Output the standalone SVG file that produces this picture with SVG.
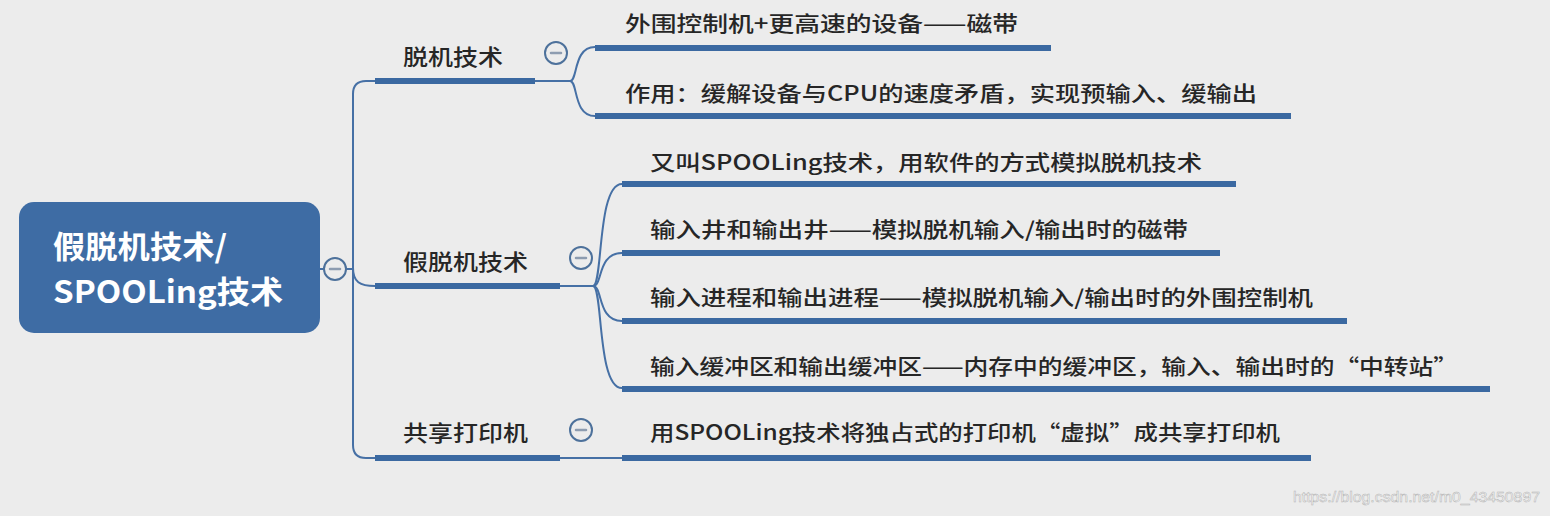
<svg xmlns="http://www.w3.org/2000/svg" width="1550" height="516" viewBox="0 0 1550 516">
<style>
.bg{fill:#ececec}
.root{fill:#3e6ca4}
.rt{font-family:"Noto Sans CJK SC","Liberation Sans",sans-serif;font-size:31px;font-weight:bold;fill:#ffffff}
.t1{font-family:"Noto Sans CJK SC","Liberation Sans",sans-serif;font-size:22px;font-weight:500;fill:#262626}
.t2{font-family:"Noto Sans CJK SC","Liberation Sans",sans-serif;font-size:21px;font-weight:500;fill:#262626}
.bar{stroke:#3b69a1;stroke-width:6;fill:none}
.ln{stroke:#4670a5;stroke-width:2;fill:none}
.col{fill:#ececec;stroke:#4d719b;stroke-width:2}
.minus{stroke:#8d9cb0;stroke-width:2.5;stroke-linecap:round}
.wm{font-family:"Liberation Sans",Arial,sans-serif;font-size:15px;fill:#f8f8f8;stroke:#b4b4b4;stroke-width:0.5}
</style>
<rect class="bg" x="0" y="0" width="1550" height="516"/>

<g id="connectors">
  <path class="ln" d="M320,269 H324 M346,269 H353"/>
  <path class="ln" d="M375,81 H366 Q353,81 353,94 V445 Q353,458 366,458 H375"/>
  <path class="ln" d="M353,268 C353,282 360,286 375,286"/>
  <!-- 脱机技术 fork -->
  <path class="ln" d="M535,81 H570"/>
  <path class="ln" d="M570,81 C578,81 573,47 595,47"/>
  <path class="ln" d="M570,81 C578,81 573,116 595,116"/>
  <!-- 假脱机技术 fork -->
  <path class="ln" d="M560,286 H593"/>
  <path class="ln" d="M593,286 C603,286 597,184 622,184"/>
  <path class="ln" d="M593,286 C603,286 597,253 622,253"/>
  <path class="ln" d="M593,286 C603,286 597,321 622,321"/>
  <path class="ln" d="M593,286 C603,286 597,388 622,388"/>
  <!-- 共享打印机 -->
  <path class="ln" d="M560,458 H622"/>
</g>

<g id="root">
  <rect class="root" x="19" y="202" width="301" height="131" rx="15" ry="15"/>
  <text class="rt" x="53" y="258" textLength="174" lengthAdjust="spacingAndGlyphs">假脱机技术/</text>
  <text class="rt" x="53" y="303" textLength="230" lengthAdjust="spacingAndGlyphs">SPOOLing技术</text>
  <circle class="col" cx="335" cy="269" r="11"/>
  <line class="minus" x1="330" y1="269" x2="340" y2="269"/>
</g>

<g id="n-tuoji">
  <text class="t1" x="403" y="65" textLength="100" lengthAdjust="spacingAndGlyphs">脱机技术</text>
  <line class="bar" x1="375" y1="81" x2="535" y2="81"/>
  <circle class="col" cx="556" cy="53" r="11"/>
  <line class="minus" x1="551" y1="53" x2="561" y2="53"/>
</g>

<g id="n-tuoji-1">
  <text class="t2" x="625" y="31" textLength="393" lengthAdjust="spacingAndGlyphs">外围控制机+更高速的设备——磁带</text>
  <line class="bar" x1="595" y1="48" x2="1051" y2="48"/>
</g>

<g id="n-tuoji-2">
  <text class="t2" x="625" y="101" textLength="632" lengthAdjust="spacingAndGlyphs">作用：缓解设备与CPU的速度矛盾，实现预输入、缓输出</text>
  <line class="bar" x1="595" y1="116" x2="1291" y2="116"/>
</g>

<g id="n-jiatuoji">
  <text class="t1" x="403" y="270" textLength="125" lengthAdjust="spacingAndGlyphs">假脱机技术</text>
  <line class="bar" x1="375" y1="286" x2="560" y2="286"/>
  <circle class="col" cx="581" cy="258" r="11"/>
  <line class="minus" x1="576" y1="258" x2="586" y2="258"/>
</g>

<g id="n-jiatuoji-1">
  <text class="t2" x="650" y="170" textLength="552" lengthAdjust="spacingAndGlyphs">又叫SPOOLing技术，用软件的方式模拟脱机技术</text>
  <line class="bar" x1="622" y1="184" x2="1236" y2="184"/>
</g>

<g id="n-jiatuoji-2">
  <text class="t2" x="650" y="237" textLength="538" lengthAdjust="spacingAndGlyphs">输入井和输出井——模拟脱机输入/输出时的磁带</text>
  <line class="bar" x1="622" y1="253" x2="1220" y2="253"/>
</g>

<g id="n-jiatuoji-3">
  <text class="t2" x="650" y="305" textLength="663" lengthAdjust="spacingAndGlyphs">输入进程和输出进程——模拟脱机输入/输出时的外围控制机</text>
  <line class="bar" x1="622" y1="321" x2="1347" y2="321"/>
</g>

<g id="n-jiatuoji-4">
  <text class="t2" x="650" y="374" textLength="808" lengthAdjust="spacingAndGlyphs">输入缓冲区和输出缓冲区——内存中的缓冲区，输入、输出时的“中转站”</text>
  <line class="bar" x1="622" y1="389" x2="1490" y2="389"/>
</g>

<g id="n-gongxiang">
  <text class="t1" x="403" y="441" textLength="125" lengthAdjust="spacingAndGlyphs">共享打印机</text>
  <line class="bar" x1="375" y1="458" x2="560" y2="458"/>
  <circle class="col" cx="581" cy="430" r="11"/>
  <line class="minus" x1="576" y1="430" x2="586" y2="430"/>
</g>

<g id="n-gongxiang-1">
  <text class="t2" x="650" y="440" textLength="630" lengthAdjust="spacingAndGlyphs">用SPOOLing技术将独占式的打印机“虚拟”成共享打印机</text>
  <line class="bar" x1="622" y1="458" x2="1311" y2="458"/>
</g>

<text class="wm" x="1293" y="502" textLength="247" lengthAdjust="spacingAndGlyphs">https://blog.csdn.net/m0_43450897</text>
</svg>
